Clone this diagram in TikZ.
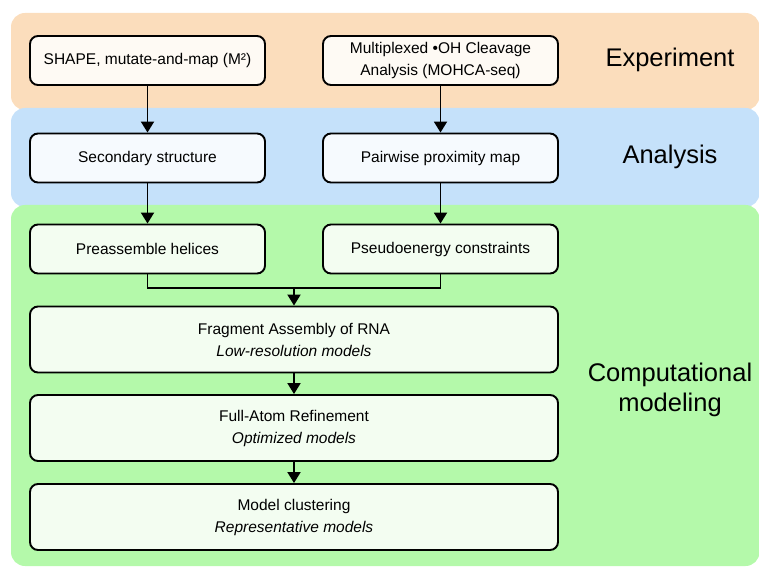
\documentclass[tikz,border=0pt]{standalone}
\usepackage{fontspec}
\setmainfont{Liberation Sans}
\usetikzlibrary{arrows.meta}
\definecolor{bandorange}{RGB}{251,221,188}
\definecolor{bandblue}{RGB}{197,225,250}
\definecolor{bandgreen}{RGB}{180,249,170}
\definecolor{fillorange}{RGB}{254,250,244}
\definecolor{fillblue}{RGB}{246,250,254}
\definecolor{fillgreen}{RGB}{243,253,241}
\begin{document}
\begin{tikzpicture}[x=1pt,y=-1pt,
  stepbox/.style={draw, line width=1.9pt, rounded corners=8pt, inner sep=0pt,
    minimum height=49pt, minimum width=235pt, align=center,
    font=\fontsize{15.5}{22}\selectfont},
  widebox/.style={stepbox, minimum width=528pt, minimum height=66pt, fill=fillgreen},
  band/.style={rounded corners=14pt},
  phase/.style={font=\fontsize{25.5}{30}\selectfont, align=center},
  flow/.style={draw, line width=1.9pt, >={Triangle[length=11pt,width=13pt]}}]
\useasboundingbox (0,0) rectangle (759,569);

% background bands
\fill[band, bandorange] (11,13) rectangle (759.5,110);
\fill[band, bandblue] (11,108) rectangle (759.5,207);
\fill[band, bandgreen] (11,205) rectangle (759.5,566);

\node[phase] (exp) at (670,60) {Experiment};
\node[phase] (ana) at (670,157) {Analysis};
\node[phase] (comp) at (670,390) {Computational\\modeling};

\node[stepbox, fill=fillorange] (shape) at (147.5,60.5) {SHAPE, mutate-and-map (M²)};
\node[stepbox, fill=fillorange] (mohca) at (440.5,60.5) {Multiplexed •OH Cleavage\\Analysis (MOHCA-seq)};
\node[stepbox, fill=fillblue] (sec) at (147.5,158) {Secondary structure};
\node[stepbox, fill=fillblue] (pair) at (440.5,158) {Pairwise proximity map};
\node[stepbox, fill=fillgreen] (pre) at (147.5,249) {Preassemble helices};
\node[stepbox, fill=fillgreen] (pseudo) at (440.5,249) {Pseudoenergy constraints};
\node[widebox] (frag) at (294,339.5) {Fragment Assembly of RNA\\\textit{Low-resolution models}};
\node[widebox] (full) at (294,428) {Full-Atom Refinement\\\textit{Optimized models}};
\node[widebox] (clust) at (294,517) {Model clustering\\\textit{Representative models}};
\coordinate (merge) at (294,288);

\path[flow,->] (shape) -- (sec);
\path[flow,->] (mohca) -- (pair);
\path[flow,->] (sec) -- (pre);
\path[flow,->] (pair) -- (pseudo);
\path[flow] (pre.south) |- (merge);
\path[flow] (pseudo.south) |- (merge);
\path[flow,->] (merge) -- (frag);
\path[flow,->] (frag) -- (full);
\path[flow,->] (full) -- (clust);
\end{tikzpicture}
\end{document}
